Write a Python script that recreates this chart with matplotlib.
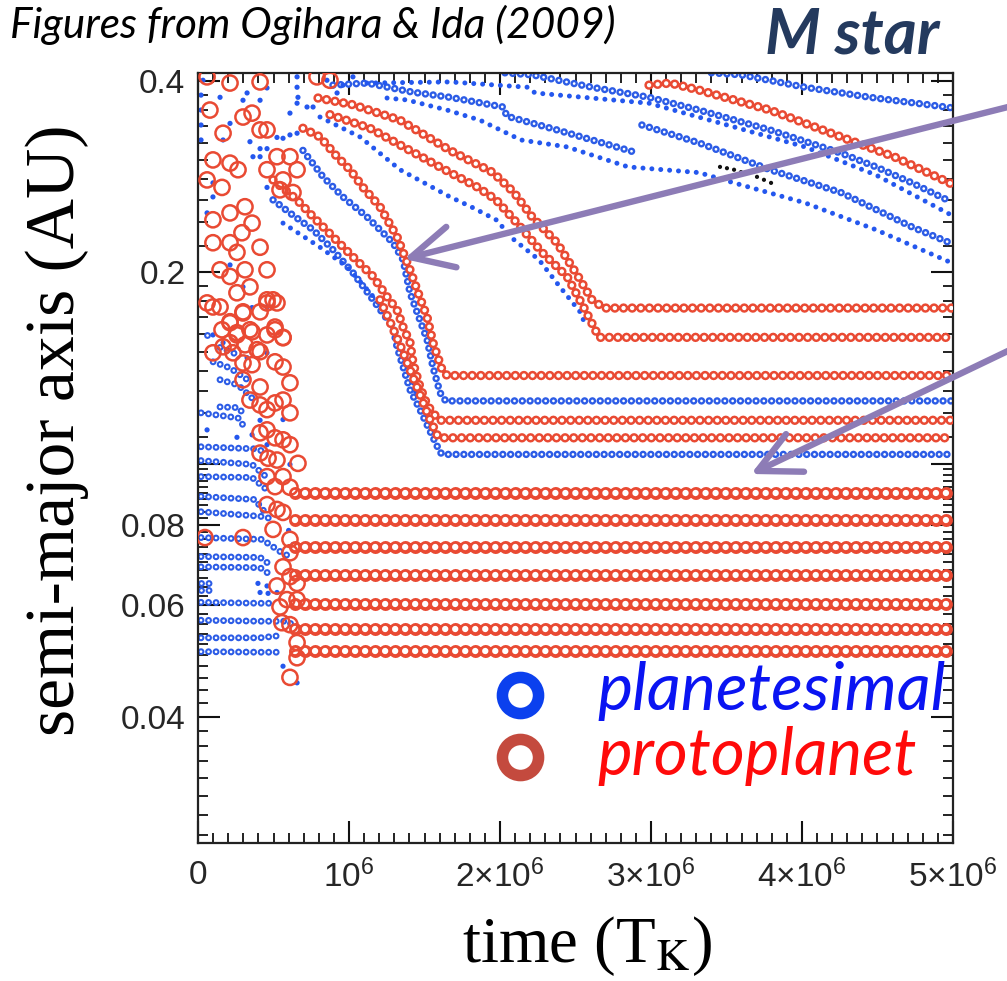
import numpy as np
import matplotlib
matplotlib.use("Agg")
import matplotlib.pyplot as plt
from matplotlib.lines import Line2D
from matplotlib.patches import FancyArrowPatch
from matplotlib.ticker import FixedLocator, FixedFormatter, NullFormatter

# ---------------- data (time in units of 1e6 T_K, semi-major axis in AU) ----------------
T_UNIT = 1e6

# protoplanets that end on flat orbits (lower group)
P_LOW_LEVELS = [0.0899, 0.0815, 0.0739, 0.0668, 0.0601, 0.0549, 0.0507]
P_LOW_START = 0.64
T_END = 4.99

# migrating protoplanet tracks (t list, a list)
R_A = ([0.795, 1.026, 1.338, 1.669, 1.954, 2.093, 2.212, 2.377, 2.517, 2.609, 2.689, 4.99],
       [0.376, 0.367, 0.347, 0.311, 0.287, 0.267, 0.2445, 0.2226, 0.197, 0.181, 0.1757, 0.1757])
R_A2 = ([0.874, 1.139, 1.424, 1.669, 1.854, 1.974, 2.113, 2.278, 2.444, 2.563, 2.656, 2.70, 4.99],
        [0.354, 0.337, 0.309, 0.287, 0.272, 0.260, 0.239, 0.215, 0.197, 0.1746, 0.158, 0.158, 0.158])
R_B = ([0.695, 0.808, 0.921, 1.007, 1.093, 1.205, 1.318, 1.404, 1.450, 1.517, 1.556, 1.616, 1.65, 4.99],
       [0.337, 0.3266, 0.304, 0.290, 0.272, 0.2536, 0.2274, 0.2018, 0.1878, 0.170, 0.155, 0.1405, 0.1376, 0.1376])
R_C = ([0.497, 0.656, 0.762, 0.894, 1.026, 1.159, 1.252, 1.318, 1.358, 1.404, 1.424, 1.470, 1.517, 1.583, 1.60, 4.99],
       [0.2795, 0.260, 0.2445, 0.2274, 0.2115, 0.197, 0.183, 0.1746, 0.164, 0.155, 0.144, 0.132, 0.1237, 0.118, 0.117, 0.117])
R_D = ([1.205, 1.272, 1.338, 1.404, 1.470, 1.536, 1.583, 1.60, 4.99],
       [0.181, 0.167, 0.1538, 0.1405, 0.1284, 0.1173, 0.111, 0.1098, 0.1098])
R_UP = ([2.987, 3.126, 3.318, 3.788, 4.258, 4.609, 4.99],
        [0.394, 0.397, 0.387, 0.360, 0.3266, 0.304, 0.2755])

# planetesimal tracks drawn as small rings
B_G = ([0.695, 0.828, 0.960, 1.119, 1.291, 1.358, 1.404, 1.457, 1.517, 1.556, 1.603, 1.64, 4.99],
       [0.311, 0.2826, 0.2628, 0.2445, 0.2226, 0.2093, 0.1857, 0.1714, 0.1567, 0.1419, 0.1293, 0.1255, 0.1255])
B_E = ([0.497, 0.609, 0.762, 0.894, 1.026, 1.159, 1.291, 1.318, 1.404, 1.470, 1.556, 1.603, 1.62, 4.99],
       [0.260, 0.2479, 0.2333, 0.217, 0.1997, 0.181, 0.164, 0.1527, 0.1307, 0.1216, 0.110, 0.1042, 0.1034, 0.1034])
B_TOP = ([3.40, 3.596, 4.02, 4.45, 4.99],
         [0.412, 0.409, 0.391, 0.377, 0.363])
B_A = ([2.033, 2.212, 2.609, 2.987, 3.318, 3.788, 4.258, 4.49, 4.728, 4.99],
       [0.412, 0.409, 0.391, 0.377, 0.360, 0.335, 0.308, 0.293, 0.2765, 0.258])
B_B = ([2.94, 3.318, 3.788, 4.258, 4.728, 4.99],
       [0.341, 0.3196, 0.290, 0.267, 0.2357, 0.222])
B_C = ([0.894, 1.119, 1.424, 1.669, 2.02, 2.046, 2.377, 2.914],
       [0.394, 0.397, 0.384, 0.377, 0.364, 0.352, 0.335, 0.308])

# planetesimal tracks drawn as small dots
D_1 = ([1.119, 1.669, 2.185, 2.232, 2.987, 3.55, 4.02, 4.49, 4.99],
       [0.397, 0.3986, 0.391, 0.383, 0.369, 0.3386, 0.315, 0.2845, 0.246])
D_2 = ([1.252, 1.384, 1.649, 1.868, 2.139, 2.444, 2.848, 3.318, 3.55, 4.02, 4.49, 4.99],
       [0.376, 0.3734, 0.360, 0.347, 0.323, 0.315, 0.293, 0.287, 0.2765, 0.2572, 0.2333, 0.207])
D_3 = ([0.808, 0.940, 1.073, 1.338, 1.669, 1.808, 1.974, 2.093, 2.258, 2.397, 2.536, 2.563],
       [0.351, 0.3386, 0.3266, 0.29, 0.2628, 0.2536, 0.2419, 0.225, 0.2093, 0.1897, 0.1726, 0.1654])
D_4 = ([0.563, 0.808, 0.987, 1.139, 1.272, 1.384, 1.450],
       [0.239, 0.219, 0.204, 0.1857, 0.170, 0.1457, 0.1274])

# early planetesimal rows (small rings)
LEFT_ROWS = [
    ([0.06, 0.10], [0.1594, 0.1594]),
    ([0.146, 0.265], [0.1523, 0.1483]),
    ([0.10, 0.21, 0.298, 0.358], [0.1446, 0.1415, 0.137, 0.134]),
    ([0.146, 0.265, 0.358], [0.1355, 0.133, 0.1268]),
    ([0.146, 0.265, 0.311], [0.1228, 0.1225, 0.1192]),
    ([0.02, 0.265, 0.298], [0.1202, 0.118, 0.115]),
    ([0.02, 0.377, 0.457], [0.1063, 0.1055, 0.1042]),
    ([0.02, 0.358, 0.457], [0.1011, 0.0997, 0.0951]),
    ([0.02, 0.358, 0.457], [0.0954, 0.0951, 0.0909]),
    ([0.02, 0.377, 0.457], [0.0888, 0.0878, 0.083]),
    ([0.02, 0.444, 0.497], [0.084, 0.0825, 0.0816]),
    ([0.02, 0.424, 0.556, 0.609], [0.0765, 0.076, 0.0724, 0.0714]),
    ([0.02, 0.411, 0.497], [0.0714, 0.0712, 0.0688]),
    ([0.02, 0.411, 0.497], [0.0688, 0.0686, 0.0664]),
    ([0.02, 0.10], [0.065, 0.065]),
    ([0.02, 0.10], [0.0632, 0.0632]),
    ([0.02, 0.411, 0.51], [0.0605, 0.0603, 0.0603]),
    ([0.02, 0.411, 0.589, 0.656], [0.0567, 0.0565, 0.0565, 0.0552]),
    ([0.02, 0.411, 0.563], [0.0532, 0.0532, 0.0537]),
    ([0.02, 0.411, 0.53], [0.0506, 0.0505, 0.0505]),
]

# scattered protoplanets in the early chaotic phase (t, a)
RED_SCATTER = [
    (0.06, 0.406), (0.212, 0.397), (0.411, 0.3986), (0.079, 0.360), (0.166, 0.331),
    (0.411, 0.335), (0.457, 0.335), (0.298, 0.351), (0.358, 0.356), (0.099, 0.3005),
    (0.212, 0.297), (0.265, 0.290), (0.06, 0.2795), (0.159, 0.272), (0.457, 0.290),
    (0.656, 0.290), (0.523, 0.304), (0.609, 0.304), (0.563, 0.2795), (0.543, 0.2696),
    (0.629, 0.267), (0.311, 0.2536), (0.212, 0.248), (0.099, 0.2419), (0.358, 0.239),
    (0.291, 0.2308), (0.411, 0.219), (0.099, 0.2226), (0.212, 0.2226), (0.258, 0.215),
    (0.146, 0.2018), (0.457, 0.2018), (0.311, 0.2018), (0.212, 0.197), (0.258, 0.1857),
    (0.344, 0.1897), (0.457, 0.181), (0.497, 0.181), (0.06, 0.179), (0.099, 0.1764),
    (0.146, 0.1764), (0.298, 0.1726), (0.212, 0.1666), (0.344, 0.1624), (0.51, 0.164),
    (0.563, 0.158), (0.258, 0.1607), (0.166, 0.1527), (0.391, 0.1511), (0.099, 0.1494),
    (0.232, 0.1494), (0.788, 0.406), (0.874, 0.401),
    (0.298, 0.1733), (0.411, 0.1733), (0.457, 0.179), (0.523, 0.179), (0.212, 0.1672),
    (0.258, 0.1594), (0.358, 0.1612), (0.457, 0.1594), (0.51, 0.1624), (0.563, 0.1578),
    (0.159, 0.1624), (0.212, 0.155), (0.311, 0.1538), (0.411, 0.15), (0.298, 0.144),
    (0.358, 0.1431), (0.51, 0.1446), (0.563, 0.1419), (0.609, 0.134), (0.298, 0.1355),
    (0.411, 0.132), (0.344, 0.1259), (0.411, 0.1237), (0.457, 0.1216), (0.51, 0.1246),
    (0.563, 0.1259), (0.609, 0.1202), (0.411, 0.1118), (0.457, 0.113), (0.51, 0.1098),
    (0.563, 0.109), (0.609, 0.1071), (0.411, 0.1039), (0.464, 0.102), (0.523, 0.1013),
    (0.662, 0.1001), (0.457, 0.0954), (0.563, 0.0954), (0.51, 0.092), (0.609, 0.0918),
    (0.457, 0.0862), (0.523, 0.0847), (0.563, 0.0838), (0.497, 0.0788), (0.609, 0.076),
    (0.298, 0.0765), (0.046, 0.0765), (0.609, 0.0724), (0.563, 0.0688), (0.609, 0.0664),
    (0.523, 0.0642), (0.656, 0.0648), (0.589, 0.0611), (0.656, 0.0611), (0.543, 0.0595),
    (0.556, 0.0562), (0.609, 0.0558), (0.656, 0.0523), (0.656, 0.0495), (0.609, 0.0461),
]

# scattered planetesimals in the early chaotic phase (t, a)
BLUE_SCATTER = [
    (0.033, 0.401), (0.02, 0.380), (0.02, 0.360), (0.02, 0.341), (0.02, 0.323),
    (0.146, 0.377), (0.325, 0.383), (0.298, 0.373), (0.411, 0.373), (0.457, 0.39),
    (0.656, 0.406), (0.656, 0.391), (0.662, 0.377), (0.656, 0.369), (0.609, 0.356),
    (0.722, 0.364), (0.762, 0.364), (0.921, 0.383), (0.96, 0.394), (1.026, 0.406),
    (0.854, 0.401), (0.212, 0.343), (0.166, 0.323), (0.344, 0.321), (0.411, 0.313),
    (0.457, 0.313), (0.364, 0.304), (0.411, 0.304), (0.656, 0.331), (0.609, 0.329),
    (0.563, 0.325), (0.523, 0.326), (0.099, 0.2765), (0.099, 0.2628), (0.06, 0.248),
    (0.457, 0.272), (0.212, 0.2054), (0.298, 0.1897), (0.358, 0.176), (0.457, 0.1764),
    (0.099, 0.1594), (0.166, 0.155), (0.325, 0.1468), (0.457, 0.1494), (0.258, 0.110),
    (0.358, 0.111), (0.411, 0.117), (0.457, 0.1071), (0.563, 0.1173), (0.609, 0.0997),
    (0.06, 0.113), (0.397, 0.0648), (0.457, 0.0642), (0.411, 0.0627), (0.464, 0.0625),
    (0.523, 0.0627), (0.563, 0.048), (0.656, 0.0452), (0.629, 0.0746), (0.6, 0.0785),
]

# a few black points
BLACK_DOTS = [(3.457, 0.293), (3.503, 0.2916), (3.55, 0.290), (3.596, 0.2875),
              (3.702, 0.2826), (3.748, 0.2796), (3.795, 0.2765)]

X_TICKS = [0, 1e6, 2e6, 3e6, 4e6, 5e6]
X_TICK_LABELS = ['0', r'$10^6$', r'$2{\times}10^6$', r'$3{\times}10^6$', r'$4{\times}10^6$', r'$5{\times}10^6$']
Y_TICKS = [0.04, 0.06, 0.08, 0.1, 0.2, 0.4]
Y_TICK_LABELS = ['0.04', '0.06', '0.08', '', '0.2', '0.4']

# ---------------- styling ----------------
plt.rcParams['lines.scale_dashes'] = False
plt.rcParams['mathtext.fontset'] = 'custom'
plt.rcParams['mathtext.rm'] = 'Liberation Sans'
plt.rcParams['mathtext.it'] = 'Liberation Sans:italic'

W, H = 1007, 981
fig = plt.figure(figsize=(W / 100, H / 100), dpi=100)
fx = lambda x: x / W
fy = lambda y: 1 - y / H

ax = fig.add_axes([fx(198), fy(843), 755 / W, 770 / H])
ax.set_yscale('log')
ax.set_xlim(0, 5e6)
ax.set_ylim(0.0253, 0.4117)

RED = '#e94a33'
BLUE = '#2c5ce6'
BLUE_DOT = '#2457ee'


def ring_track(track, color, outer, inner, gap, z):
    t, a = track
    t = np.asarray(t) * T_UNIT
    ls = (0, (0.01, gap))
    ax.plot(t, a, color=color, lw=outer, ls=ls, dash_capstyle='round', zorder=z)
    ax.plot(t, a, color='white', lw=inner, ls=ls, dash_capstyle='round', zorder=z)


def dot_track(track, color, size, gap, z):
    t, a = track
    t = np.asarray(t) * T_UNIT
    ax.plot(t, a, color=color, lw=size, ls=(0, (0.01, gap)), dash_capstyle='round', zorder=z)


# planetesimals
for tr in LEFT_ROWS:
    ring_track(tr, BLUE, 5.0, 2.0, 5.4, 2)
for tr in (B_G, B_E, B_TOP, B_A, B_B, B_C):
    ring_track(tr, BLUE, 5.4, 2.0, 5.6, 2)
for tr in (D_1, D_2, D_3, D_4):
    dot_track(tr, BLUE_DOT, 3.6, 6.4, 2)

bs_t = np.array([p[0] for p in BLUE_SCATTER]) * T_UNIT
bs_a = [p[1] for p in BLUE_SCATTER]
ax.scatter(bs_t, bs_a, s=14, color=BLUE_DOT, edgecolors='none', zorder=2)

bk_t = np.array([p[0] for p in BLACK_DOTS]) * T_UNIT
bk_a = [p[1] for p in BLACK_DOTS]
ax.scatter(bk_t, bk_a, s=9, color='#111111', edgecolors='none', zorder=2)

# protoplanets
for lev in P_LOW_LEVELS:
    ring_track(([P_LOW_START, T_END], [lev, lev]), RED, 9.4, 4.6, 7.2, 3)
for tr in (R_A, R_A2, R_B, R_C, R_D, R_UP):
    ring_track(tr, RED, 6.8, 3.2, 6.2, 3)

rs_t = np.array([p[0] for p in RED_SCATTER]) * T_UNIT
rs_a = [p[1] for p in RED_SCATTER]
ax.scatter(rs_t, rs_a, s=120, facecolors='none', edgecolors=RED, linewidths=1.8, zorder=3)

# axes decorations
ax.xaxis.set_major_locator(FixedLocator(X_TICKS))
ax.xaxis.set_major_formatter(FixedFormatter(X_TICK_LABELS))
ax.xaxis.set_minor_locator(FixedLocator(np.arange(1e5, 5e6, 1e5)))
ax.xaxis.set_minor_formatter(NullFormatter())
minor_y = [v for v in np.concatenate([np.arange(0.026, 0.0999, 0.002),
                                      np.arange(0.11, 0.195, 0.01),
                                      np.arange(0.22, 0.39, 0.02)])
           if min(abs(v - m) for m in Y_TICKS) > 1e-4]
ax.yaxis.set_major_locator(FixedLocator(Y_TICKS))
ax.yaxis.set_major_formatter(FixedFormatter(Y_TICK_LABELS))
ax.yaxis.set_minor_locator(FixedLocator(minor_y))
ax.yaxis.set_minor_formatter(NullFormatter())
ax.tick_params(which='both', direction='in', top=True, right=True, color='#111111')
ax.tick_params(which='major', length=16, width=1.5, labelsize=24, labelcolor='#262626')
ax.tick_params(axis='x', which='major', pad=12)
ax.tick_params(axis='y', which='major', pad=9)
ax.tick_params(which='minor', length=7, width=1.3)
for lab in ax.get_xticklabels() + ax.get_yticklabels():
    lab.set_fontfamily('Liberation Sans')
for sp in ax.spines.values():
    sp.set_linewidth(1.6)
    sp.set_color('#222222')

renderer = fig.canvas.get_renderer()


def fit(txt, target, use_height=False):
    bb = txt.get_window_extent(renderer)
    cur = bb.height if use_height else bb.width
    txt.set_fontsize(txt.get_fontsize() * target / cur)


title = fig.text(fx(10), fy(38), 'Figures from Ogihara & Ida (2009)', family='Lato',
                 style='italic', fontsize=30, ha='left', va='baseline', color='black')
fit(title, 605)
mstar = fig.text(fx(765), fy(54), 'M star', family='Lato', style='italic', weight='bold',
                 fontsize=38, ha='left', va='baseline', color='#243a5e')
fit(mstar, 174)
ylab = fig.text(fx(57), fy(430), 'semi-major axis (AU)', rotation=90, family='Liberation Serif',
                fontsize=48, ha='center', va='center', color='black')
fit(ylab, 610, use_height=True)
xlab = fig.text(fx(587), fy(962), r'time (T$_{\mathrm{K}}$)', family='Liberation Serif',
                math_fontfamily='stix', fontsize=48, ha='center', va='baseline', color='black')
fit(xlab, 250)

# legend
fig.add_artist(Line2D([fx(520)], [fy(695)], transform=fig.transFigure, marker='o', ms=26,
                      mew=8.3, mfc='white', mec='#0b40ee', ls='none', zorder=10))
fig.add_artist(Line2D([fx(520)], [fy(757)], transform=fig.transFigure, marker='o', ms=26,
                      mew=8.3, mfc='white', mec='#c44a3e', ls='none', zorder=10))
leg1 = fig.text(fx(597), fy(710), 'planetesimal', family='Lato', style='italic', fontsize=40,
                ha='left', va='baseline', color='#0a14f2', zorder=10)
fit(leg1, 348)
leg2 = fig.text(fx(597), fy(775), 'protoplanet', family='Lato', style='italic', fontsize=40,
                ha='left', va='baseline', color='#ff0a0a', zorder=10)
fit(leg2, 319)

# annotation arrows
for (x0, y0), (x1, y1) in [((1012, 106), (404, 259)), ((1012, 349), (751, 474))]:
    arr = FancyArrowPatch((fx(x0), fy(y0)), (fx(x1), fy(y1)), transform=fig.transFigure,
                          arrowstyle='->,head_length=1.5,head_width=0.75', mutation_scale=20,
                          lw=4.6, color='#8d7cb6', shrinkA=0, shrinkB=0,
                          capstyle='round', joinstyle='round', zorder=20)
    fig.add_artist(arr)

fig.savefig('out.png', dpi=100)
